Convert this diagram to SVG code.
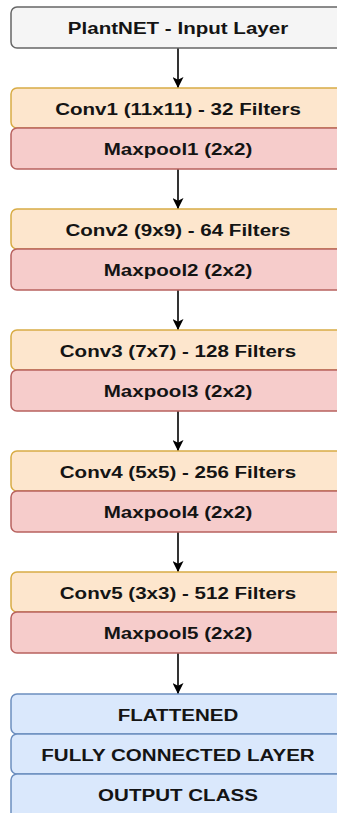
<svg xmlns="http://www.w3.org/2000/svg" width="337" height="813" viewBox="0 0 337 813">
  <defs>
    <style>
      .box { stroke-width: 1.5; }
      .input { fill: #f5f5f5; stroke: #666666; }
      .conv { fill: #fde6cd; stroke: #d8ac45; }
      .pool { fill: #f6cccb; stroke: #b8625f; }
      .dense { fill: #dae8fc; stroke: #6c8ebf; }
      .label { font-family: "Liberation Sans", Arial, sans-serif; font-weight: bold; font-size: 17px; fill: #141414; text-anchor: middle; }
      .link { stroke: #000000; stroke-width: 1.6; fill: none; }
    </style>
    <marker id="arrow" viewBox="0 0 10 10" refX="10" refY="5" markerWidth="11" markerHeight="11" markerUnits="userSpaceOnUse" orient="auto">
      <path d="M0,0 L10,5 L0,10 L2.5,5 Z" fill="#000000"/>
    </marker>
  </defs>

  <rect width="337" height="813" fill="#ffffff"/>

  <!-- connectors -->
  <g id="connectors">
    <line class="link" x1="178" y1="48" x2="178" y2="88" marker-end="url(#arrow)"/>
    <line class="link" x1="178" y1="169" x2="178" y2="209" marker-end="url(#arrow)"/>
    <line class="link" x1="178" y1="290" x2="178" y2="330" marker-end="url(#arrow)"/>
    <line class="link" x1="178" y1="411" x2="178" y2="451" marker-end="url(#arrow)"/>
    <line class="link" x1="178" y1="532" x2="178" y2="572" marker-end="url(#arrow)"/>
    <line class="link" x1="178" y1="653" x2="178" y2="694" marker-end="url(#arrow)"/>
  </g>

  <g id="input">
    <rect class="box input" x="11" y="7" width="345" height="41" rx="6"/>
    <text class="label" transform="translate(178,33.5) scale(1.21,1)">PlantNET - Input Layer</text>
  </g>

  <g id="conv1">
    <rect class="box conv" x="11" y="88" width="345" height="40" rx="6"/>
    <text class="label" transform="translate(178,114.5) scale(1.21,1)">Conv1 (11x11) - 32 Filters</text>
  </g>
  <g id="maxpool1">
    <rect class="box pool" x="11" y="128" width="345" height="41" rx="6"/>
    <text class="label" transform="translate(178,155) scale(1.21,1)">Maxpool1 (2x2)</text>
  </g>

  <g id="conv2">
    <rect class="box conv" x="11" y="209" width="345" height="40" rx="6"/>
    <text class="label" transform="translate(178,235.5) scale(1.21,1)">Conv2 (9x9) - 64 Filters</text>
  </g>
  <g id="maxpool2">
    <rect class="box pool" x="11" y="249" width="345" height="41" rx="6"/>
    <text class="label" transform="translate(178,276) scale(1.21,1)">Maxpool2 (2x2)</text>
  </g>

  <g id="conv3">
    <rect class="box conv" x="11" y="330" width="345" height="40" rx="6"/>
    <text class="label" transform="translate(178,356.5) scale(1.21,1)">Conv3 (7x7) - 128 Filters</text>
  </g>
  <g id="maxpool3">
    <rect class="box pool" x="11" y="370" width="345" height="41" rx="6"/>
    <text class="label" transform="translate(178,397) scale(1.21,1)">Maxpool3 (2x2)</text>
  </g>

  <g id="conv4">
    <rect class="box conv" x="11" y="451" width="345" height="40" rx="6"/>
    <text class="label" transform="translate(178,477.5) scale(1.21,1)">Conv4 (5x5) - 256 Filters</text>
  </g>
  <g id="maxpool4">
    <rect class="box pool" x="11" y="491" width="345" height="41" rx="6"/>
    <text class="label" transform="translate(178,518) scale(1.21,1)">Maxpool4 (2x2)</text>
  </g>

  <g id="conv5">
    <rect class="box conv" x="11" y="572" width="345" height="40" rx="6"/>
    <text class="label" transform="translate(178,598.5) scale(1.21,1)">Conv5 (3x3) - 512 Filters</text>
  </g>
  <g id="maxpool5">
    <rect class="box pool" x="11" y="612" width="345" height="41" rx="6"/>
    <text class="label" transform="translate(178,639) scale(1.21,1)">Maxpool5 (2x2)</text>
  </g>

  <g id="flattened">
    <rect class="box dense" x="11" y="694" width="345" height="40" rx="6"/>
    <text class="label" transform="translate(178,720.5) scale(1.21,1)">FLATTENED</text>
  </g>
  <g id="fully-connected">
    <rect class="box dense" x="11" y="734" width="345" height="40" rx="6"/>
    <text class="label" transform="translate(178,760.5) scale(1.21,1)">FULLY CONNECTED LAYER</text>
  </g>
  <g id="output-class">
    <rect class="box dense" x="11" y="774" width="345" height="46" rx="6"/>
    <text class="label" transform="translate(178,800.5) scale(1.21,1)">OUTPUT CLASS</text>
  </g>
</svg>
